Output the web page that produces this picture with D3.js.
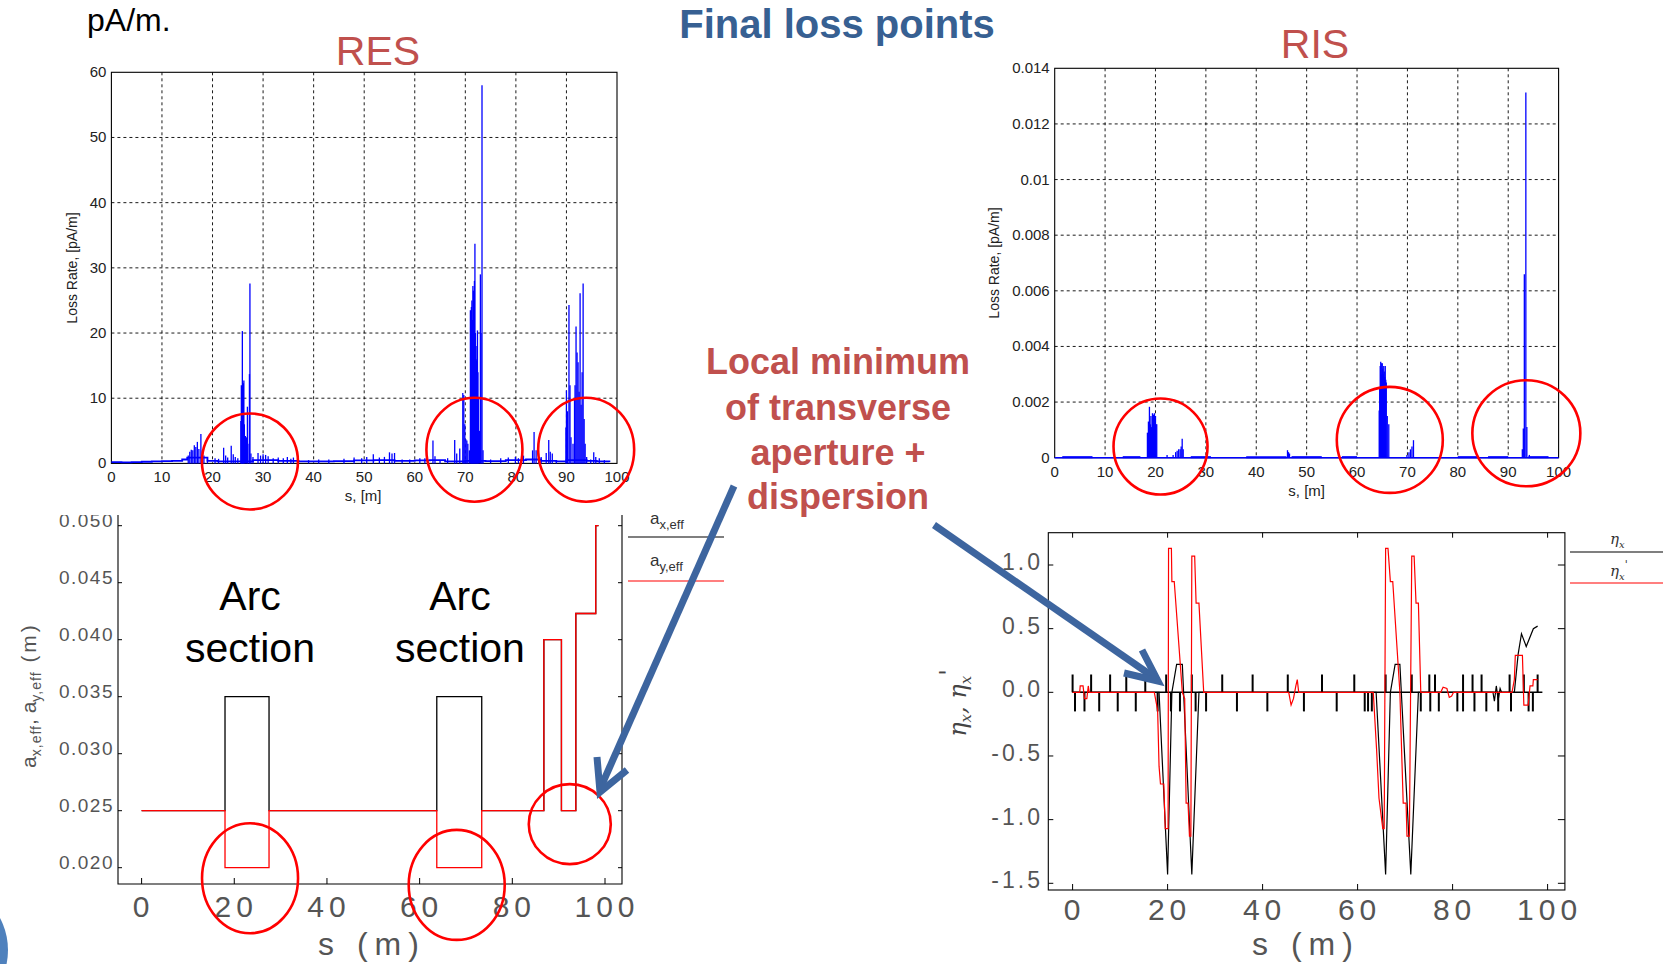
<!DOCTYPE html>
<html>
<head>
<meta charset="utf-8">
<script src="https://cdn.jsdelivr.net/npm/d3@7"></script>
<style>
  body { margin: 0; background: #fff; }
  svg { display: block; }
</style>
</head>
<body>
<svg id="slide" width="1663" height="964"></svg>
<script>
// ---- data ----
// RES loss rate, pA/m : [s (m), rate]
var resSpikes = [
  [15.2,1.2],[15.5,1.8],[15.8,2.1],[16.1,2.0],[16.4,2.8],[16.7,2.5],[17.0,3.3],[17.3,2.2],[17.7,4.5],[18.0,2.0],[18.3,1.2],
  [19.0,0.6],[20.5,0.8],[21.2,0.7],[22.2,2.4],[22.6,1.2],[23.0,0.9],[23.7,2.7],[24.1,1.4],[24.5,1.0],[25.0,0.8],
  [25.6,6.5],[25.7,12.0],[25.8,11.8],[25.9,20.3],[26.0,7.0],[26.1,12.3],[26.2,12.7],[26.3,6.0],[26.5,4.2],[26.7,4.0],
  [26.9,8.7],[27.0,3.0],[27.3,13.7],[27.4,27.6],[27.6,1.5],[28.0,1.0],
  [29.0,1.6],[29.5,1.2],[30.0,1.4],[30.5,1.3],[31.0,1.1],[32.0,0.8],[33.0,0.9],[34.0,0.8],[34.8,1.0],[35.5,0.7],[36.0,0.9],
  [39.0,0.5],[41.0,0.6],[43.0,0.6],[46.0,0.7],[48.0,0.9],[49.5,0.8],[50.5,1.0],[51.8,1.4],[53.0,0.9],[54.0,1.0],
  [55.0,1.7],[55.5,1.5],[56.0,1.6],[57.5,0.6],[59.0,0.6],[61.0,0.8],[62.0,0.8],
  [63.6,3.5],[64.0,1.1],[65.0,0.5],[66.5,0.8],[67.9,3.6],[68.3,1.5],[68.9,2.3],[69.5,10.8],[69.7,10.5],[69.9,6.0],
  [70.1,3.7],[70.3,3.5],[70.5,3.0],[70.8,2.0],
  [71.0,23.5],[71.1,20.0],[71.2,24.0],[71.3,25.0],[71.4,22.0],[71.5,27.2],[71.6,26.5],[71.7,24.0],[71.8,28.0],[71.9,33.7],
  [72.0,20.0],[72.1,16.0],[72.2,15.8],[72.3,18.0],[72.4,20.4],[72.5,14.0],[72.6,10.0],[72.8,5.0],[72.98,29.0],[73.1,20.0],
  [73.3,58.0],[73.5,2.0],
  [75.0,0.6],[77.0,0.8],[78.5,0.9],[79.9,1.0],[80.5,0.8],[81.5,1.2],[83.3,2.0],[83.6,4.8],[84.0,2.0],[84.5,1.5],[85.0,1.0],
  [86.0,1.6],[86.5,3.6],[86.8,1.8],[87.2,1.5],[88.0,0.4],
  [89.9,5.5],[90.0,11.2],[90.2,8.0],[90.5,24.3],[90.7,12.0],[90.9,4.0],[91.3,3.0],[91.6,10.0],[91.7,12.0],[91.9,21.0],
  [92.1,17.0],[92.3,15.5],[92.5,11.0],[92.7,26.1],[92.9,9.0],[93.1,14.0],[93.3,27.6],[93.5,6.8],[93.7,3.0],[94.0,1.0],
  [94.8,0.6],[95.4,1.7],[95.8,1.0],[96.5,0.8],[97.5,0.5]
];
var resFloor = [
  [0,0.2],[2,0.15],[4,0.2],[6,0.25],[8,0.3],[10,0.35],[12,0.4],[14,0.6],[15,0.9],[19,0.4],[21,0.3],[25,0.3],[28,0.5],
  [33,0.4],[37,0.3],[40,0.3],[44,0.35],[48,0.45],[52,0.5],[56,0.4],[60,0.45],[63,0.5],[66,0.3],[70,0.4],[74,0.35],
  [78,0.5],[82,0.6],[85,0.4],[88,0.3],[90,0.5],[94,0.4],[96,0.3],[98.5,0.2]
];

// RIS loss rate, pA/m
var risSpikes = [
  [18.4,0.0009],[18.6,0.0013],[18.8,0.00183],[19.0,0.0012],[19.1,0.0015],[19.2,0.0011],[19.4,0.0016],[19.5,0.0013],
  [19.6,0.00155],[19.8,0.0016],[19.9,0.0014],[20.0,0.0015],[20.1,0.0012],[20.25,0.0012],
  [22.3,0.0001],[23.5,0.0001],[24.0,0.0002],[24.3,0.00025],[24.6,0.0003],[24.9,0.0003],[25.1,0.0004],[25.3,0.00068],[25.5,0.0003],
  [46.2,0.00027],[46.4,0.0002],[46.6,0.00015],
  [64.4,0.0017],[64.5,0.0025],[64.6,0.0033],[64.7,0.00345],[64.8,0.0030],[64.9,0.0034],[65.0,0.0034],[65.1,0.0032],
  [65.2,0.0030],[65.3,0.0033],[65.4,0.0031],[65.5,0.0029],[65.6,0.0033],[65.7,0.0028],[65.8,0.0027],[66.0,0.0015],[66.3,0.0012],
  [69.9,0.0001],[70.3,0.0002],[70.6,0.0003],[70.9,0.0004],[71.2,0.00063],
  [92.8,0.0003],[93.0,0.00105],[93.2,0.0066],[93.5,0.01313],[93.7,0.0011],[94.2,0.0001]
];
var risFloorSegments = [[1.5,7.5],[13.5,17],[27,31],[38,46],[47,53],[57,60],[80,84],[86,90],[94,98]];

// effective apertures (m), step functions
var axEffS = [0, 18.0, 27.5, 63.7, 73.4, 86.8, 90.6, 93.7, 98.0, 98.6];
var axEffV = [0.025, 0.035, 0.025, 0.035, 0.025, 0.040, 0.025, 0.0423, 0.050, 0.050];
var ayEffS = [0, 18.0, 27.5, 63.7, 73.4, 86.8, 90.6, 93.7, 98.0, 98.6];
var ayEffV = [0.025, 0.020, 0.025, 0.020, 0.025, 0.040, 0.025, 0.0423, 0.050, 0.050];

// dispersion eta_x and its derivative
var etaX = [
  [0,0],[18.2,0],[20.0,-1.43],[20.9,0],[21.9,0.22],[23.1,0.22],[25.1,-1.43],[26.6,0],[63.9,0],[65.9,-1.43],[66.9,0],
  [67.9,0.22],[68.9,0.22],[71.2,-1.43],[72.8,0],[88.5,0],[88.8,-0.07],[89.2,0.05],[89.6,-0.06],[90.0,0.03],[90.3,0],
  [93.0,0],[93.8,0.3],[94.5,0.46],[95.5,0.36],[97.0,0.5],[97.9,0.52]
];
var etaXp = [
  [0,0],[1.5,0],[1.6,0.05],[2.2,0.05],[2.5,-0.05],[3.0,-0.05],[3.3,0.05],[3.5,0],[17.2,0],[17.9,-0.14],[18.2,-0.58],
  [18.5,-0.72],[19.2,-0.72],[19.5,-1.07],[20.1,-1.07],[20.2,1.13],[20.8,1.13],[20.9,0.87],[21.4,0.87],[23.1,0],
  [23.6,-0.05],[23.9,-0.87],[24.3,-0.87],[24.6,-1.13],[24.9,-1.13],[25.1,1.07],[25.7,1.07],[26.0,0.7],[26.6,0.7],
  [27.6,0],[45.5,0],[46.0,-0.1],[46.5,-0.05],[47.0,0.05],[47.3,0.1],[47.6,0],[63.3,0],[64.0,-0.45],[64.5,-0.83],
  [65.3,-1.07],[65.6,-1.07],[65.9,1.13],[66.4,1.13],[66.9,0.87],[67.4,0.87],[68.9,0],[69.6,-0.87],[70.2,-0.87],
  [70.4,-1.13],[70.9,-1.13],[71.4,1.07],[71.9,1.07],[72.3,0.7],[72.8,0.7],[73.3,0],[77.5,0],[78.0,0.04],[78.8,0.03],
  [79.3,-0.04],[79.8,-0.03],[80.2,0],[92.5,0],[93.0,0.1],[93.2,0.29],[94.7,0.29],[95.0,-0.1],[95.9,-0.1],[96.3,0.05],
  [96.9,0.05],[97.0,0.1],[97.9,0.1]
];
// lattice element markers (s positions)
var markersUp = [0, 3.9, 7.9, 11.3, 15.3, 19.7, 25.1, 31.5, 37.9, 45.3, 52.5, 59.3, 65.9, 71.4, 75.1, 76.3, 82.2, 84.2, 86.1, 92.0, 95.0, 97.9];
var markersDown = [0.5, 2.5, 5.6, 9.5, 13.3, 17.9, 20.7, 22.6, 25.9, 28.1, 34.6, 41.0, 48.7, 55.6, 61.5, 62.2, 63.0, 73.3, 75.3, 77.1, 81.0, 82.2, 84.6, 87.1, 89.6, 92.3, 96.0, 96.9];

// tick values
var lossXTicks = [0, 10, 20, 30, 40, 50, 60, 70, 80, 90, 100];
var resYTicks = [0, 10, 20, 30, 40, 50, 60];
var risYTicks = [0, 0.002, 0.004, 0.006, 0.008, 0.01, 0.012, 0.014];
var opticsXTicks = [0, 20, 40, 60, 80, 100];
var apYTicks = [0.020, 0.025, 0.030, 0.035, 0.040, 0.045, 0.050];
var etaYTicks = [-1.5, -1.0, -0.5, 0.0, 0.5, 1.0];

// red circles marking the loss spots: [s, value, rx, ry]
var resCircles = [[27.4, 0.3, 48, 48], [71.8, 2.1, 48, 52], [93.9, 2.1, 48, 52]];
var risCircles = [[21.0, 0.0004, 47, 48], [66.5, 0.00064, 53, 53], [93.6, 0.00088, 54, 53]];
var apCircles = [[23.4, 0.01907, 48, 55], [68.0, 0.01849, 48, 55], [92.4, 0.02382, 41, 40]];

var svg = d3.select("#slide");
var red = "#ff0000", blue = "#0000ff", annot = "#c0504d", navy = "#376092", arrowBlue = "#3d659f";
var narrow = "'Liberation Sans Narrow','Liberation Sans',Arial,sans-serif";
var sans = "'Liberation Sans',Arial,sans-serif";
var thin = "'Liberation Sans',Arial,sans-serif";
var grey = "#555";

function ellipses(g, data, x, y) {
  g.selectAll(null).data(data).join("ellipse")
    .attr("cx", function(d) { return x(d[0]); })
    .attr("cy", function(d) { return y(d[1]); })
    .attr("rx", function(d) { return d[2]; })
    .attr("ry", function(d) { return d[3]; })
    .attr("fill", "none").attr("stroke", red).attr("stroke-width", 2.6);
}

// MATLAB style loss rate panel
function lossPanel(c) {
  var x = d3.scaleLinear().domain([0, 100]).range([c.left, c.right]);
  var y = d3.scaleLinear().domain([0, c.ymax]).range([c.bottom, c.top]);
  var g = svg.append("g");

  g.selectAll(null).data(lossXTicks.slice(1, -1)).join("line")
    .attr("x1", function(d) { return x(d); }).attr("x2", function(d) { return x(d); })
    .attr("y1", c.top).attr("y2", c.bottom)
    .attr("stroke", "#000").attr("stroke-width", 0.9).attr("stroke-dasharray", "3,3");
  g.selectAll(null).data(c.yticks.slice(1, -1)).join("line")
    .attr("y1", function(d) { return y(d); }).attr("y2", function(d) { return y(d); })
    .attr("x1", c.left).attr("x2", c.right)
    .attr("stroke", "#000").attr("stroke-width", 0.9).attr("stroke-dasharray", "3,3");

  g.append("rect")
    .attr("x", c.left).attr("y", c.top)
    .attr("width", c.right - c.left).attr("height", c.bottom - c.top)
    .attr("fill", "none").attr("stroke", "#000").attr("stroke-width", 1.1);

  // data
  c.floor(g, x, y);
  g.selectAll(null).data(c.spikes).join("line")
    .attr("x1", function(d) { return x(d[0]); }).attr("x2", function(d) { return x(d[0]); })
    .attr("y1", y(0)).attr("y2", function(d) { return y(d[1]); })
    .attr("stroke", blue).attr("stroke-width", 1.3);

  // tick labels
  g.selectAll(null).data(lossXTicks).join("text")
    .attr("x", function(d) { return x(d); }).attr("y", c.bottom + c.xlabDy)
    .attr("text-anchor", "middle").attr("font-family", narrow).attr("font-size", 15).attr("fill", "#222")
    .text(function(d) { return d; });
  g.selectAll(null).data(c.yticks).join("text")
    .attr("x", c.left - 5).attr("y", function(d) { return y(d) + 5; })
    .attr("text-anchor", "end").attr("font-family", narrow).attr("font-size", 15).attr("fill", "#222")
    .text(c.yfmt);

  g.append("text").attr("x", (c.left + c.right) / 2 + c.xlabOff).attr("y", c.xlabY)
    .attr("text-anchor", "middle").attr("font-family", sans).attr("font-size", 15).attr("fill", "#222")
    .text("s, [m]");
  g.append("text").attr("transform", "translate(" + c.ylabX + "," + c.ylabY + ") rotate(-90)")
    .attr("text-anchor", "middle").attr("font-family", sans).attr("font-size", 14).attr("fill", "#222")
    .text("Loss Rate, [pA/m]");

  g.append("text").attr("x", c.titleX).attr("y", c.titleY)
    .attr("text-anchor", "middle").attr("font-family", sans).attr("font-size", 41).attr("fill", annot)
    .text(c.title);

  ellipses(g, c.circles, x, y);
}

lossPanel({
  left: 111.4, right: 617, top: 72.3, bottom: 463.4, ymax: 60,
  yticks: resYTicks, yfmt: function(d) { return d; },
  spikes: resSpikes,
  floor: function(g, x, y) {
    g.append("path").datum(resFloor)
      .attr("d", d3.line().x(function(d) { return x(d[0]); }).y(function(d) { return y(d[1]); }).curve(d3.curveStepAfter))
      .attr("fill", "none").attr("stroke", blue).attr("stroke-width", 1.8);
  },
  xlabDy: 19, xlabY: 501, xlabOff: -1, ylabX: 77, ylabY: 268,
  title: "RES", titleX: 378, titleY: 65, circles: resCircles
});

lossPanel({
  left: 1054.7, right: 1558.6, top: 68.3, bottom: 457.7, ymax: 0.014,
  yticks: risYTicks,
  yfmt: function(d) { return d === 0 ? "0" : d === 0.01 ? "0.01" : d.toFixed(3); },
  spikes: risSpikes,
  floor: function(g, x, y) {
    g.append("line").attr("x1", x(0)).attr("x2", x(100)).attr("y1", y(0)).attr("y2", y(0))
      .attr("stroke", blue).attr("stroke-width", 1.5);
    g.selectAll(null).data(risFloorSegments).join("line")
      .attr("x1", function(d) { return x(d[0]); }).attr("x2", function(d) { return x(d[1]); })
      .attr("y1", y(0.00002)).attr("y2", y(0.00002))
      .attr("stroke", blue).attr("stroke-width", 2);
  },
  xlabDy: 19, xlabY: 496, xlabOff: 0, ylabX: 999, ylabY: 263,
  title: "RIS", titleX: 1315, titleY: 58, circles: risCircles
});

// ---- effective apertures ----
(function() {
  var clip = svg.append("clipPath").attr("id", "apclip");
  clip.append("rect").attr("x", 0).attr("y", 515).attr("width", 760).attr("height", 450);
  var g = svg.append("g").attr("clip-path", "url(#apclip)");
  var x = d3.scaleLinear().domain([0, 100]).range([141.6, 605]);
  var y = d3.scaleLinear().domain([0.020, 0.050]).range([867.7, 525.7]);
  var L = 118, R = 622, B = 884, T = 500;

  g.append("path").attr("d", "M" + L + "," + T + "V" + B + "H" + R + "V" + T)
    .attr("fill", "none").attr("stroke", "#000").attr("stroke-width", 1.1);
  g.selectAll(null).data(opticsXTicks).join("line")
    .attr("x1", function(d) { return x(d); }).attr("x2", function(d) { return x(d); })
    .attr("y1", B).attr("y2", B - 6).attr("stroke", "#000");
  g.selectAll(null).data(apYTicks).join("line")
    .attr("x1", L).attr("x2", L + 4).attr("y1", function(d) { return y(d); }).attr("y2", function(d) { return y(d); })
    .attr("stroke", "#000");
  g.selectAll(null).data(apYTicks).join("line")
    .attr("x1", R).attr("x2", R - 4).attr("y1", function(d) { return y(d); }).attr("y2", function(d) { return y(d); })
    .attr("stroke", "#000");

  var line = d3.line().x(function(d) { return x(d[0]); }).y(function(d) { return y(d[1]); }).curve(d3.curveStepAfter);
  g.append("path").datum(d3.zip(axEffS, axEffV)).attr("d", line)
    .attr("fill", "none").attr("stroke", "#000").attr("stroke-width", 1.3);
  g.append("path").datum(d3.zip(ayEffS, ayEffV)).attr("d", line)
    .attr("fill", "none").attr("stroke", red).attr("stroke-width", 1.3);

  g.selectAll(null).data(opticsXTicks).join("text")
    .attr("x", function(d) { return x(d) + 2; }).attr("y", 917)
    .attr("text-anchor", "middle").attr("font-family", thin).attr("font-size", 30)
    .attr("letter-spacing", 5).attr("fill", grey).text(function(d) { return d; });
  g.selectAll(null).data(apYTicks).join("text")
    .attr("x", 114).attr("y", function(d) { return y(d) + 1; })
    .attr("text-anchor", "end").attr("font-family", thin).attr("font-size", 19)
    .attr("letter-spacing", 1.5).attr("fill", grey).text(d3.format(".3f"));

  g.append("text").attr("x", 372).attr("y", 955).attr("text-anchor", "middle")
    .attr("font-family", thin).attr("font-size", 32).attr("letter-spacing", 7).attr("fill", grey)
    .text("s (m)");
  var yl = g.append("text").attr("transform", "translate(36,695) rotate(-90)")
    .attr("text-anchor", "middle").attr("font-family", thin).attr("font-size", 21).attr("fill", grey);
  yl.append("tspan").text("a");
  yl.append("tspan").attr("font-size", 14).attr("dy", 5).attr("letter-spacing", 1).text("x,eff");
  yl.append("tspan").attr("dy", -5).text(",  a");
  yl.append("tspan").attr("font-size", 14).attr("dy", 5).attr("letter-spacing", 1).text("y,eff");
  yl.append("tspan").attr("dy", -5).attr("letter-spacing", 3).text("  (m)");

  // legend
  g.append("line").attr("x1", 628).attr("x2", 724).attr("y1", 537).attr("y2", 537).attr("stroke", "#000").attr("stroke-width", 1.2);
  g.append("line").attr("x1", 628).attr("x2", 724).attr("y1", 581).attr("y2", 581).attr("stroke", red).attr("stroke-width", 1.2);
  var lg1 = g.append("text").attr("x", 650).attr("y", 524).attr("font-family", thin).attr("font-size", 17).attr("fill", "#333");
  lg1.append("tspan").text("a");
  lg1.append("tspan").attr("font-size", 13).attr("dy", 5).text("x,eff");
  var lg2 = g.append("text").attr("x", 650).attr("y", 566).attr("font-family", thin).attr("font-size", 17).attr("fill", "#333");
  lg2.append("tspan").text("a");
  lg2.append("tspan").attr("font-size", 13).attr("dy", 5).text("y,eff");

  // arc section notes
  [[23.4, "Arc"], [68.7, "Arc"]].forEach(function(a) {
    g.append("text").attr("x", x(a[0])).attr("y", 610).attr("text-anchor", "middle")
      .attr("font-family", sans).attr("font-size", 41).attr("fill", "#000").text(a[1]);
    g.append("text").attr("x", x(a[0])).attr("y", 662).attr("text-anchor", "middle")
      .attr("font-family", sans).attr("font-size", 41).attr("fill", "#000").text("section");
  });

  ellipses(svg.append("g"), apCircles, x, y);
})();

// ---- dispersion ----
(function() {
  var g = svg.append("g");
  var x = d3.scaleLinear().domain([0, 100]).range([1072.6, 1547.6]);
  var y = d3.scaleLinear().domain([-1.5, 1.0]).range([883.3, 565]);
  var L = 1048.3, R = 1564.9, T = 532.7, B = 890;

  g.append("rect").attr("x", L).attr("y", T).attr("width", R - L).attr("height", B - T)
    .attr("fill", "none").attr("stroke", "#000").attr("stroke-width", 1.1);
  g.selectAll(null).data(opticsXTicks).join("line")
    .attr("x1", function(d) { return x(d); }).attr("x2", function(d) { return x(d); })
    .attr("y1", B).attr("y2", B - 6).attr("stroke", "#000");
  g.selectAll(null).data(opticsXTicks).join("line")
    .attr("x1", function(d) { return x(d); }).attr("x2", function(d) { return x(d); })
    .attr("y1", T).attr("y2", T + 5).attr("stroke", "#000");
  g.selectAll(null).data(etaYTicks).join("line")
    .attr("x1", R).attr("x2", R - 7).attr("y1", function(d) { return y(d); }).attr("y2", function(d) { return y(d); })
    .attr("stroke", "#000");
  g.selectAll(null).data(etaYTicks).join("line")
    .attr("x1", L).attr("x2", L + 5).attr("y1", function(d) { return y(d); }).attr("y2", function(d) { return y(d); })
    .attr("stroke", "#000");

  // element markers
  g.append("line").attr("x1", x(0)).attr("x2", x(98.9)).attr("y1", y(0)).attr("y2", y(0))
    .attr("stroke", "#000").attr("stroke-width", 1.6);
  g.selectAll(null).data(markersUp).join("line")
    .attr("x1", function(d) { return x(d); }).attr("x2", function(d) { return x(d); })
    .attr("y1", y(0)).attr("y2", y(0.14)).attr("stroke", "#000").attr("stroke-width", 2);
  g.selectAll(null).data(markersDown).join("line")
    .attr("x1", function(d) { return x(d); }).attr("x2", function(d) { return x(d); })
    .attr("y1", y(0)).attr("y2", y(-0.15)).attr("stroke", "#000").attr("stroke-width", 2);

  var line = d3.line().x(function(d) { return x(d[0]); }).y(function(d) { return y(d[1]); });
  g.append("path").datum(etaX).attr("d", line).attr("fill", "none").attr("stroke", "#000").attr("stroke-width", 1.2);
  g.append("path").datum(etaXp).attr("d", line).attr("fill", "none").attr("stroke", red).attr("stroke-width", 1.2);

  g.selectAll(null).data(opticsXTicks).join("text")
    .attr("x", function(d) { return x(d) + 2; }).attr("y", 920)
    .attr("text-anchor", "middle").attr("font-family", thin).attr("font-size", 30)
    .attr("letter-spacing", 5).attr("fill", grey).text(function(d) { return d; });
  g.selectAll(null).data(etaYTicks).join("text")
    .attr("x", 1043).attr("y", function(d) { return y(d) + 5; })
    .attr("text-anchor", "end").attr("font-family", thin).attr("font-size", 23).attr("letter-spacing", 3)
    .attr("fill", grey).text(function(d) { return d.toFixed(1); });

  g.append("text").attr("x", 1306).attr("y", 955).attr("text-anchor", "middle")
    .attr("font-family", thin).attr("font-size", 32).attr("letter-spacing", 7).attr("fill", grey)
    .text("s (m)");
  var yl = g.append("text").attr("transform", "translate(966,703) rotate(-90)")
    .attr("text-anchor", "middle").attr("font-family", "'DejaVu Serif',serif").attr("font-style", "italic")
    .attr("font-size", 24).attr("fill", "#444");
  yl.append("tspan").text("η");
  yl.append("tspan").attr("font-size", 15).attr("dy", 5).text("x");
  yl.append("tspan").attr("dy", -5).text(",  η");
  yl.append("tspan").attr("font-size", 15).attr("dy", 5).text("x");
  yl.append("tspan").attr("dy", -14).text("'");

  g.append("line").attr("x1", 1570).attr("x2", 1663).attr("y1", 552).attr("y2", 552).attr("stroke", "#000").attr("stroke-width", 1.2);
  g.append("line").attr("x1", 1570).attr("x2", 1663).attr("y1", 583).attr("y2", 583).attr("stroke", red).attr("stroke-width", 1.2);
  var l1 = g.append("text").attr("x", 1610).attr("y", 544).attr("font-family", "'DejaVu Serif',serif")
    .attr("font-style", "italic").attr("font-size", 15).attr("fill", "#333");
  l1.append("tspan").text("η");
  l1.append("tspan").attr("font-size", 10).attr("dy", 4).text("x");
  var l2 = g.append("text").attr("x", 1610).attr("y", 576).attr("font-family", "'DejaVu Serif',serif")
    .attr("font-style", "italic").attr("font-size", 15).attr("fill", "#333");
  l2.append("tspan").text("η");
  l2.append("tspan").attr("font-size", 10).attr("dy", 4).text("x");
  l2.append("tspan").attr("dy", -12).attr("font-size", 11).text("'");
})();

// ---- slide text and arrows ----
svg.append("text").attr("x", 87).attr("y", 31).attr("font-family", sans).attr("font-size", 32).attr("fill", "#000").text("pA/m.");
svg.append("text").attr("x", 837).attr("y", 38).attr("text-anchor", "middle").attr("font-family", sans)
  .attr("font-weight", "bold").attr("font-size", 40).attr("fill", navy).text("Final loss points");

var note = ["Local minimum", "of transverse", "aperture +", "dispersion"];
var noteY = [374, 420, 465, 509];
svg.selectAll(null).data(note).join("text")
  .attr("x", 838).attr("y", function(d, i) { return noteY[i]; })
  .attr("text-anchor", "middle").attr("font-family", sans).attr("font-weight", "bold")
  .attr("font-size", 36).attr("fill", annot).text(function(d) { return d; });

function arrow(x1, y1, x2, y2, head) {
  svg.append("line").attr("x1", x1).attr("y1", y1).attr("x2", x2).attr("y2", y2)
    .attr("stroke", arrowBlue).attr("stroke-width", 7);
  svg.append("polyline").attr("points", head.map(function(p) { return p.join(","); }).join(" "))
    .attr("fill", "none").attr("stroke", arrowBlue).attr("stroke-width", 7).attr("stroke-linejoin", "miter");
}
arrow(734, 486, 600, 789, [[597, 757], [600, 792], [627, 770]]);
arrow(934, 525, 1155, 678, [[1142, 650], [1158, 681], [1124, 673]]);

svg.append("circle").attr("cx", -60).attr("cy", 950).attr("r", 68).attr("fill", "#4f81bd");
</script>
</body>
</html>
